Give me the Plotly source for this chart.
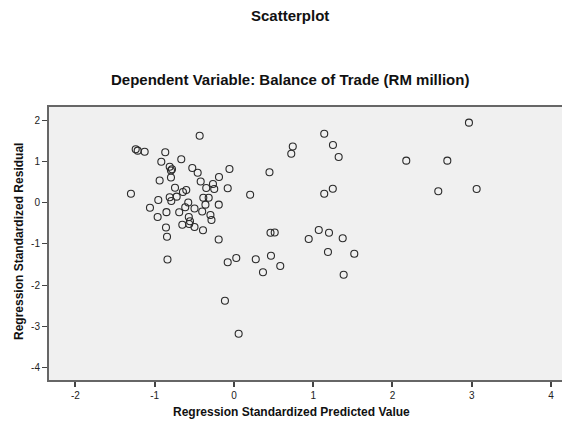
import plotly.graph_objects as go

predicted = [-1.300, -1.240, -1.215, -1.127, -0.867, -0.917, -0.665, -0.433, -0.811, -0.782,
             -0.795, -0.526, -0.458, -0.795, -0.938, -0.420, -0.189, -0.057, -0.265, -0.350,
             -0.249, -0.079, -0.744, -0.644, -0.602, -0.723, -0.811, -0.955, -0.791, -0.387,
             -0.319, -0.577, -0.360, -0.192, -1.060, -0.615, -0.498, -0.852, -0.691, -0.401,
             -0.963, -0.297, -0.570, -0.284, -0.555, -0.565, -0.652, -0.498, -0.391, -0.858,
             -0.845, -0.193, 0.204, 0.448, 0.461, 0.514, 0.742, 0.723, 1.139, 1.249,
             1.321, 2.965, 2.174, 2.692, 1.139, 1.247, 2.578, 3.062, 0.943, 1.070,
             1.199, 1.372, 1.186, 1.518, 1.384, -0.839, -0.079, 0.029, 0.275, 0.467,
             0.366, 0.584, -0.114, 0.059]

residual = [0.227, 1.310, 1.276, 1.251, 1.237, 1.007, 1.066, 1.641, 0.885, 0.822,
            0.793, 0.854, 0.739, 0.622, 0.549, 0.524, 0.634, 0.829, 0.463, 0.366,
            0.341, 0.359, 0.373, 0.268, 0.317, 0.154, 0.139, 0.073, 0.049, 0.129,
            0.129, 0.012, -0.041, -0.041, -0.115, -0.105, -0.134, -0.224, -0.227, -0.207,
            -0.341, -0.293, -0.341, -0.415, -0.446, -0.512, -0.529, -0.585, -0.666, -0.598,
            -0.822, -0.890, 0.202, 0.751, -0.724, -0.720, 1.378, 1.200, 1.690, 1.415,
            1.122, 1.959, 1.032, 1.032, 0.224, 0.349, 0.285, 0.341, -0.878, -0.659,
            -0.724, -0.859, -1.195, -1.239, -1.749, -1.380, -1.446, -1.341, -1.373, -1.285,
            -1.690, -1.537, -2.383, -3.188]

x_ticks = [-2, -1, 0, 1, 2, 3, 4]
y_ticks = [-4, -3, -2, -1, 0, 1, 2]

title_text = "Scatterplot"
subtitle_text = "Dependent Variable: Balance of Trade (RM million)"
x_title = "Regression Standardized Predicted Value"
y_title = "Regression Standardized Residual"

# the page body has an 8px margin, so the figure starts at (8, 8) in the window
OFF = 8
W, H = 570 - OFF, 425 - OFF
L, R, T, B = 49 - OFF, 0, 107 - OFF, 425 - 380
PW, PH = W - L - R, H - T - B


def px(x):
    return (x - OFF - L) / PW


def py(y):
    return (H - B - (y - OFF)) / PH


font = "Liberation Sans, Arial, sans-serif"

fig = go.Figure()
fig.add_trace(go.Scatter(
    x=predicted, y=residual, mode="markers",
    marker=dict(symbol="circle-open", size=7, color="#2a2a2a", line=dict(width=1.1, color="#2a2a2a")),
    showlegend=False, hoverinfo="skip"))

fig.update_layout(
    width=W, height=H,
    margin=dict(l=L, r=R, t=T, b=B, autoexpand=False),
    paper_bgcolor="white", plot_bgcolor="#f0f0f0",
    font=dict(family=font, size=10, color="#222"),
    annotations=[
        dict(text=f"<b>{title_text}</b>", x=px(290), y=py(15), xref="paper", yref="paper",
             xanchor="center", yanchor="middle", showarrow=False, font=dict(size=15, color="#111")),
        dict(text=f"<b>{subtitle_text}</b>", x=px(290), y=py(80), xref="paper", yref="paper",
             xanchor="center", yanchor="middle", showarrow=False, font=dict(size=15, color="#111")),
        dict(text=f"<b>{x_title}</b>", x=px(291), y=py(412), xref="paper", yref="paper",
             xanchor="center", yanchor="middle", showarrow=False, font=dict(size=12, color="#111")),
        dict(text=f"<b>{y_title}</b>", x=px(19), y=py(242), xref="paper", yref="paper",
             xanchor="center", yanchor="middle", showarrow=False, textangle=-90,
             font=dict(size=12, color="#111")),
    ],
)

fig.update_xaxes(
    range=[-2.334, 4.240], tickvals=x_ticks, ticktext=[str(v) for v in x_ticks],
    showgrid=False, zeroline=False, showline=True, linecolor="#666", linewidth=2, mirror=True,
    ticks="outside", ticklen=5, tickwidth=2, tickcolor="#444", automargin=False,
)
fig.update_yaxes(
    range=[-4.317, 2.341], tickvals=y_ticks, ticktext=[str(v) for v in y_ticks],
    showgrid=False, zeroline=False, showline=True, linecolor="#666", linewidth=2, mirror=False,
    ticks="outside", ticklen=5, tickwidth=1, tickcolor="#444", automargin=False,
)

fig.write_html("out.html")
